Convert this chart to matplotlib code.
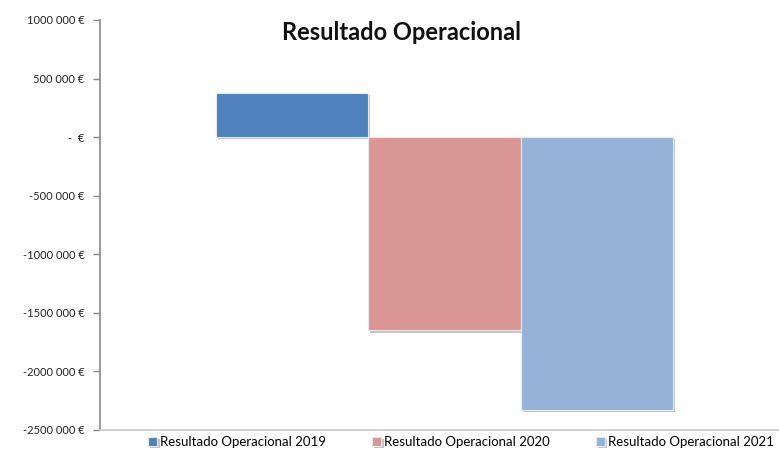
import matplotlib
matplotlib.use("Agg")
import matplotlib.pyplot as plt
import matplotlib.patheffects as pe

series = ["Resultado Operacional 2019", "Resultado Operacional 2020", "Resultado Operacional 2021"]
values = [375000, -1650000, -2330000]
colors = ["#4F81BD", "#D99694", "#95B3D7"]
tick_values = [1000000, 500000, 0, -500000, -1000000, -1500000, -2000000, -2500000]
tick_labels = ["1000 000 €", "500 000 €", "-  €", "-500 000 €", "-1000 000 €",
               "-1500 000 €", "-2000 000 €", "-2500 000 €"]

plt.rcParams['font.family'] = ['Lato', 'DejaVu Sans']
fig = plt.figure(figsize=(7.79, 4.53), dpi=100)
ax = fig.add_axes([100/779, 23/453, 679/779, 410/453])

for i, (s, v, c) in enumerate(zip(series, values, colors)):
    ax.bar(i, v, width=1.0, align='edge', color=c, edgecolor='#e8e8e8', linewidth=0.8,
           label=s, zorder=2,
           path_effects=[pe.SimplePatchShadow(offset=(1.5, -1.5), shadow_rgbFace='#808080', alpha=0.45),
                         pe.Normal()])

ax.set_xlim(-0.762, 3.696)
ax.set_ylim(-2500000, 1000000)
ax.set_yticks(tick_values)
ax.set_yticklabels(tick_labels, fontsize=8, color='#222222')
ax.set_xticks([])
for sp in ['top', 'right']:
    ax.spines[sp].set_visible(False)
ax.spines['left'].set_color('#888888')
ax.spines['bottom'].set_color('#c8c8c8')
ax.spines['left'].set_linewidth(1.2)
ax.spines['bottom'].set_linewidth(1.2)
ax.tick_params(axis='y', direction='out', length=5, color='#888888', width=1, pad=6)

fig.text(401/779, 1 - 33/453, "Resultado Operacional", ha='center', va='center',
         fontsize=17, fontweight='bold', color='#111111')

fig.legend(loc='center', bbox_to_anchor=(461/779, 1 - 442/453), ncol=3, frameon=False,
           fontsize=9.5, handlelength=0.7, handleheight=0.7, handletextpad=0.2,
           columnspacing=3.5)

fig.savefig("out.png", dpi=100, facecolor='white')
